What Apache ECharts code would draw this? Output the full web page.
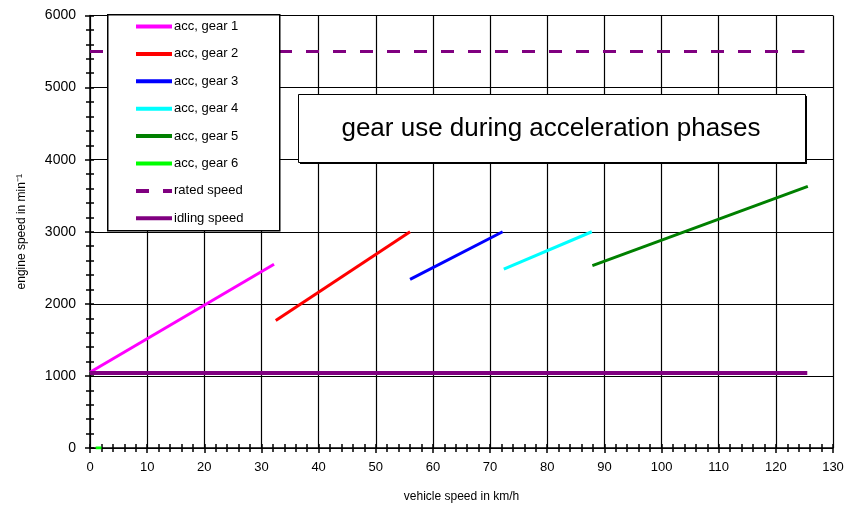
<!DOCTYPE html>
<html><head><meta charset="utf-8">
<script src="https://cdn.jsdelivr.net/npm/echarts@6/dist/echarts.min.js"></script>
<style>html,body{margin:0;padding:0;background:#fff}#c{width:852px;height:516px}</style>
</head><body><div id="c"></div>
<script>
const seriesNames = ['acc, gear 1','acc, gear 2','acc, gear 3','acc, gear 4','acc, gear 5','acc, gear 6','rated speed','idling speed'];
const gear1 = [[0,1050],[32.2,2550]];
const gear2 = [[32.5,1770],[56,3000]];
const gear3 = [[56,2340],[72.2,3000]];
const gear4 = [[72.4,2480],[87.8,3000]];
const gear5 = [[87.9,2530],[125.6,3630]];
const gear6 = [[1,0],[2,0]];
const ratedSpeed = [[0,5500],[125,5500]];
const idlingSpeed = [[0,1040],[125.5,1040]];
const xTicks = {min:0, max:130, interval:10};
const yTicks = {min:0, max:6000, interval:1000};
const titleText = 'gear use during acceleration phases';
const xName = 'vehicle speed in km/h';
const yName = 'engine speed in min\u207B\u00B9';

const colors = ['#FF00FF','#FF0000','#0000FF','#00FFFF','#008000','#00FF00','#800080','#800080'];
const datasets = [gear1,gear2,gear3,gear4,gear5,gear6,ratedSpeed,idlingSpeed];
const font = 'Liberation Sans, Arial, sans-serif';

const chart = echarts.init(document.getElementById('c'));
const series = datasets.map((d,i)=>({
  name: seriesNames[i], type:'line', data:d, symbol:'none', animation:false,
  xAxisIndex:0, yAxisIndex:0,
  lineStyle:{color:colors[i], width: i===7?4:3, type: i===6?[13,14]:'solid', cap:'butt'},
  itemStyle:{color:colors[i]}, z:3
}));
const baseX = {type:'value', min:xTicks.min, max:xTicks.max, interval:xTicks.interval};
const baseY = {type:'value', min:yTicks.min, max:yTicks.max, interval:yTicks.interval};
chart.setOption({
  animation:false,
  grid:{left:90, right:19, top:15.5, bottom:68, containLabel:false},
  xAxis:[
    Object.assign({}, baseX, {
      name:xName, nameLocation:'middle', nameGap:43,
      nameTextStyle:{fontFamily:font, fontSize:12, color:'#000'},
      axisLine:{lineStyle:{color:'#000', width:1.5}},
      axisTick:{show:true, length:5, lineStyle:{color:'#000', width:1.5}},
      minorTick:{show:true, splitNumber:5, length:4, lineStyle:{color:'#000', width:1.5}},
      splitLine:{show:true, lineStyle:{color:'#000', width:1.2}},
      axisLabel:{fontFamily:font, fontSize:13, color:'#000', margin:13}
    }),
    Object.assign({}, baseX, {
      axisLine:{show:false}, axisLabel:{show:false}, splitLine:{show:false},
      axisTick:{show:true, inside:true, length:4, lineStyle:{color:'#000', width:1.5}},
      minorTick:{show:true, splitNumber:5, length:4, lineStyle:{color:'#000', width:1.5}},
      position:'bottom'
    })
  ],
  yAxis:[
    Object.assign({}, baseY, {
      name:yName, nameLocation:'middle', nameGap:62, nameRotate:90,
      nameTextStyle:{fontFamily:font, fontSize:12, color:'#000'},
      axisLine:{show:true, lineStyle:{color:'#000', width:1.5}},
      axisTick:{show:true, length:5, lineStyle:{color:'#000', width:1.5}},
      minorTick:{show:true, splitNumber:5, length:4, lineStyle:{color:'#000', width:1.5}},
      splitLine:{show:true, lineStyle:{color:'#000', width:1.2}},
      axisLabel:{fontFamily:font, fontSize:14, color:'#000', margin:14, formatter:(v)=>String(v)}
    }),
    Object.assign({}, baseY, {
      axisLine:{show:false}, axisLabel:{show:false}, splitLine:{show:false},
      axisTick:{show:true, inside:true, length:4, lineStyle:{color:'#000', width:1.5}},
      minorTick:{show:true, splitNumber:5, length:4, lineStyle:{color:'#000', width:1.5}},
      position:'left'
    })
  ],
  legend:{
    data:seriesNames, orient:'vertical', left:134, top:20, padding:0,
    itemWidth:36, itemHeight:14, itemGap:14.4, selectedMode:false, z:20,
    itemStyle:{opacity:0},
    lineStyle:{width:4},
    textStyle:{fontFamily:font, fontSize:13, color:'#000', padding:[0,0,0,-3]}
  },
  graphic:[
    {type:'rect', left:107, top:14, z:10, shape:{width:172, height:216},
     style:{fill:'#fff', stroke:'#000', lineWidth:1.5}},
    {type:'rect', left:300, top:96, z:10, shape:{width:507, height:68},
     style:{fill:'#000'}},
    {type:'rect', left:298, top:94, z:10, shape:{width:507, height:68},
     style:{fill:'#fff', stroke:'#000', lineWidth:1}},
    {type:'text', x:551, y:129, z:11,
     style:{text:titleText, fontFamily:font, fontSize:26, fill:'#000', align:'center', verticalAlign:'middle'}}
  ],
  series: series
});
</script></body></html>
